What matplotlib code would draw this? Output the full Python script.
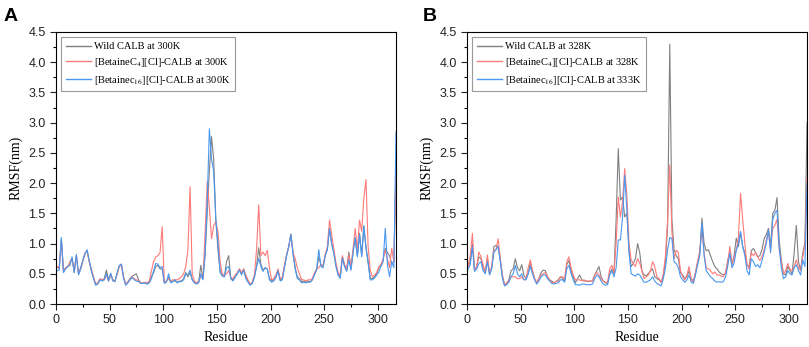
import numpy as np
import matplotlib
matplotlib.use('Agg')
import matplotlib.pyplot as plt
from matplotlib.ticker import MultipleLocator

plt.rcParams['mathtext.fontset'] = 'stix'

# residue positions (every second residue)
residues = np.arange(1, 318, 2)

# Panel A: 300K
wild_300 = [
    0.62, 0.58, 1.08, 0.53, 0.60, 0.62, 0.66, 0.76, 0.52, 0.80,
    0.50, 0.60, 0.72, 0.84, 0.88, 0.70, 0.55, 0.44, 0.32, 0.34,
    0.40, 0.40, 0.42, 0.56, 0.40, 0.50, 0.40, 0.38, 0.50, 0.62,
    0.66, 0.45, 0.32, 0.36, 0.42, 0.46, 0.48, 0.50, 0.40, 0.35,
    0.34, 0.35, 0.33, 0.36, 0.45, 0.52, 0.62, 0.64, 0.58, 0.58,
    0.36, 0.38, 0.44, 0.36, 0.38, 0.38, 0.36, 0.38, 0.38, 0.42,
    0.52, 0.45, 0.52, 0.40, 0.36, 0.34, 0.36, 0.64, 0.42, 0.80,
    1.50, 2.20, 2.77, 2.40, 1.40, 0.90, 0.55, 0.48, 0.45, 0.70,
    0.80, 0.42, 0.40, 0.45, 0.50, 0.58, 0.50, 0.58, 0.45, 0.38,
    0.32, 0.35, 0.45, 0.62, 0.93, 0.66, 0.56, 0.60, 0.58, 0.42,
    0.38, 0.40, 0.45, 0.56, 0.40, 0.42, 0.62, 0.80, 0.95, 1.16,
    0.85, 0.60, 0.45, 0.42, 0.37, 0.38, 0.36, 0.38, 0.37, 0.40,
    0.50, 0.56, 0.78, 0.65, 0.62, 0.80, 0.90, 1.25, 1.00, 0.85,
    0.65, 0.50, 0.45, 0.78, 0.65, 0.56, 0.86, 0.58, 0.88, 1.08,
    0.80, 1.17, 0.80, 1.28, 0.95, 0.70, 0.42, 0.42, 0.45, 0.50,
    0.60, 0.65, 0.73, 0.92, 0.85, 0.80, 0.67, 0.70, 2.30,
]
betc4_300 = [
    0.62, 0.60, 1.05, 0.55, 0.60, 0.62, 0.70, 0.76, 0.54, 0.80,
    0.50, 0.58, 0.70, 0.84, 0.88, 0.70, 0.58, 0.45, 0.33, 0.35,
    0.42, 0.40, 0.40, 0.48, 0.38, 0.48, 0.40, 0.38, 0.50, 0.62,
    0.64, 0.44, 0.33, 0.37, 0.40, 0.45, 0.42, 0.40, 0.38, 0.35,
    0.35, 0.36, 0.35, 0.38, 0.55, 0.70, 0.78, 0.80, 0.85, 1.28,
    0.36, 0.38, 0.42, 0.38, 0.40, 0.40, 0.40, 0.42, 0.45, 0.50,
    0.62, 0.90, 1.94, 0.50, 0.38, 0.35, 0.38, 0.45, 0.42, 1.17,
    2.03, 1.60, 1.08, 1.30, 1.36, 1.20, 0.70, 0.50, 0.48, 0.50,
    0.55, 0.44, 0.42, 0.48, 0.52, 0.58, 0.52, 0.58, 0.48, 0.40,
    0.33, 0.36, 0.48, 0.90, 1.64, 0.80, 0.86, 0.80, 0.89, 0.60,
    0.40, 0.42, 0.48, 0.58, 0.42, 0.44, 0.64, 0.82, 0.95, 1.14,
    0.85, 0.75, 0.60, 0.50, 0.40, 0.40, 0.38, 0.40, 0.40, 0.42,
    0.52, 0.58, 0.60, 0.65, 0.64, 0.82, 0.95, 1.39, 1.15, 0.90,
    0.68, 0.52, 0.48, 0.80, 0.65, 0.58, 0.82, 0.60, 0.92, 1.25,
    0.90, 1.39, 1.20, 1.75, 2.06, 0.95, 0.56, 0.45, 0.48, 0.52,
    0.62, 0.65, 0.75, 0.89, 0.75, 0.60, 0.92, 0.70, 2.10,
]
betc16_300 = [
    0.55, 0.56, 1.10, 0.52, 0.58, 0.62, 0.64, 0.78, 0.52, 0.82,
    0.48, 0.58, 0.72, 0.82, 0.90, 0.72, 0.55, 0.42, 0.31, 0.33,
    0.40, 0.38, 0.40, 0.50, 0.38, 0.51, 0.38, 0.37, 0.52, 0.64,
    0.66, 0.42, 0.31, 0.35, 0.40, 0.44, 0.40, 0.38, 0.37, 0.34,
    0.34, 0.35, 0.33, 0.35, 0.42, 0.55, 0.67, 0.66, 0.60, 0.62,
    0.34, 0.36, 0.50, 0.35, 0.37, 0.40, 0.35, 0.37, 0.37, 0.40,
    0.50, 0.48, 0.56, 0.40, 0.35, 0.33, 0.35, 0.50, 0.40, 0.85,
    1.70, 2.90, 2.40, 2.20, 1.40, 1.00, 0.52, 0.46, 0.45, 0.60,
    0.62, 0.42, 0.38, 0.44, 0.50, 0.56, 0.48, 0.56, 0.42, 0.36,
    0.31, 0.34, 0.44, 0.62, 0.75, 0.62, 0.54, 0.60, 0.58, 0.40,
    0.36, 0.38, 0.44, 0.55, 0.38, 0.40, 0.60, 0.80, 0.95, 1.15,
    0.82, 0.58, 0.42, 0.40, 0.35, 0.36, 0.35, 0.36, 0.36, 0.40,
    0.48, 0.58, 0.90, 0.62, 0.60, 0.80, 0.90, 1.25, 1.00, 0.84,
    0.62, 0.48, 0.42, 0.76, 0.62, 0.54, 0.73, 0.56, 0.85, 1.10,
    0.78, 1.15, 0.78, 1.30, 0.92, 0.68, 0.40, 0.40, 0.43, 0.48,
    0.53, 0.62, 0.70, 1.25, 0.65, 0.45, 0.70, 0.60, 2.85,
]

# Panel B: 328K / 333K
wild_328 = [
    0.62, 0.70, 1.00, 0.55, 0.62, 0.78, 0.75, 0.60, 0.52, 0.75,
    0.50, 0.60, 0.95, 0.97, 0.95, 0.73, 0.48, 0.31, 0.34, 0.40,
    0.55, 0.58, 0.75, 0.60, 0.55, 0.65, 0.48, 0.42, 0.50, 0.68,
    0.55, 0.42, 0.34, 0.42, 0.52, 0.56, 0.55, 0.45, 0.40, 0.38,
    0.35, 0.37, 0.40, 0.45, 0.42, 0.38, 0.65, 0.72, 0.55, 0.45,
    0.35, 0.42, 0.48, 0.40, 0.38, 0.38, 0.37, 0.38, 0.38, 0.48,
    0.55, 0.62, 0.45, 0.38, 0.35, 0.34, 0.50, 0.58, 0.50, 1.40,
    2.57, 1.72, 1.77, 1.44, 1.50, 0.90, 0.62, 0.67, 0.75, 1.00,
    0.85, 0.55, 0.48, 0.47, 0.50, 0.55, 0.58, 0.45, 0.42, 0.40,
    0.36, 0.48, 0.70, 1.30, 4.30, 1.40, 0.90, 0.80, 0.75, 0.52,
    0.48, 0.42, 0.45, 0.55, 0.42, 0.38, 0.52, 0.70, 0.85, 1.42,
    1.00, 0.88, 0.90, 0.80, 0.70, 0.62, 0.58, 0.53, 0.50, 0.48,
    0.50, 0.72, 0.85, 0.65, 0.80, 1.09, 0.95, 1.18, 0.95, 0.85,
    0.65, 0.62, 0.88, 0.92, 0.85, 0.78, 0.80, 0.90, 1.08, 1.15,
    1.25, 0.95, 1.50, 1.55, 1.76, 1.05, 0.73, 0.50, 0.48, 0.62,
    0.55, 0.50, 0.85, 1.30, 0.70, 0.56, 0.84, 1.02, 3.00,
]
betc4_328 = [
    0.62, 0.80, 1.17, 0.56, 0.62, 0.86, 0.78, 0.65, 0.52, 0.81,
    0.50, 0.62, 0.88, 0.90, 1.08, 0.75, 0.45, 0.32, 0.35, 0.38,
    0.45, 0.45, 0.45, 0.42, 0.42, 0.45, 0.40, 0.42, 0.60, 0.73,
    0.55, 0.42, 0.35, 0.42, 0.48, 0.50, 0.52, 0.45, 0.40, 0.36,
    0.35, 0.37, 0.38, 0.45, 0.45, 0.42, 0.70, 0.78, 0.60, 0.48,
    0.40, 0.40, 0.40, 0.38, 0.40, 0.38, 0.38, 0.38, 0.38, 0.48,
    0.52, 0.48, 0.42, 0.38, 0.36, 0.36, 0.58, 0.64, 0.52, 1.00,
    1.77, 1.44, 1.70, 2.24, 1.80, 1.00, 0.73, 0.67, 0.62, 0.75,
    0.68, 0.55, 0.42, 0.45, 0.48, 0.55, 0.70, 0.62, 0.45, 0.42,
    0.36, 0.50, 0.80, 1.40, 2.30, 1.20, 0.75, 0.89, 0.85, 0.55,
    0.45, 0.40, 0.48, 0.62, 0.40, 0.36, 0.52, 0.70, 0.88, 1.22,
    0.85, 0.60, 0.58, 0.55, 0.50, 0.53, 0.48, 0.48, 0.46, 0.45,
    0.52, 0.68, 0.95, 0.67, 0.75, 0.89, 1.10, 1.83, 1.40, 1.00,
    0.65, 0.58, 0.85, 0.80, 0.85, 0.78, 0.72, 0.78, 0.90, 1.05,
    1.20, 0.90, 1.25, 1.30, 1.40, 0.90, 0.70, 0.50, 0.55, 0.67,
    0.58, 0.55, 0.62, 0.73, 0.60, 0.55, 0.78, 0.97, 2.10,
]
betc16_333 = [
    0.58, 0.65, 0.95, 0.54, 0.58, 0.67, 0.70, 0.55, 0.50, 0.70,
    0.48, 0.58, 0.85, 0.90, 0.95, 0.70, 0.42, 0.30, 0.32, 0.36,
    0.45, 0.50, 0.64, 0.50, 0.45, 0.50, 0.40, 0.40, 0.50, 0.62,
    0.50, 0.40, 0.33, 0.38, 0.45, 0.48, 0.48, 0.42, 0.38, 0.34,
    0.33, 0.34, 0.35, 0.40, 0.40, 0.36, 0.58, 0.64, 0.50, 0.40,
    0.32, 0.32, 0.31, 0.33, 0.33, 0.32, 0.32, 0.32, 0.33, 0.42,
    0.48, 0.45, 0.38, 0.33, 0.31, 0.32, 0.48, 0.55, 0.45, 0.60,
    1.06, 1.06, 1.44, 2.13, 1.55, 0.85, 0.50, 0.48, 0.46, 0.50,
    0.48, 0.42, 0.36, 0.36, 0.38, 0.40, 0.45, 0.38, 0.34, 0.32,
    0.30, 0.42, 0.60, 0.90, 1.10, 1.08, 0.70, 0.67, 0.60, 0.45,
    0.40, 0.36, 0.40, 0.48, 0.36, 0.34, 0.48, 0.65, 0.80, 1.35,
    0.80, 0.55, 0.50, 0.45, 0.42, 0.38, 0.36, 0.37, 0.36, 0.37,
    0.45, 0.62, 0.84, 0.60, 0.68, 0.89, 1.00, 1.20, 0.95, 0.80,
    0.55, 0.48, 0.75, 0.70, 0.62, 0.65, 0.60, 0.72, 0.85, 1.00,
    1.22, 0.85, 1.40, 1.50, 1.55, 0.95, 0.60, 0.42, 0.45, 0.55,
    0.50, 0.48, 0.60, 0.65, 0.55, 0.48, 0.73, 0.62, 2.00,
]

labels_a = ['Wild CALB at 300K',
            '[BetaineC$_4$][Cl]-CALB at 300K',
            '[Betainec$_{16}$][Cl]-CALB at 300K']
labels_b = ['Wild CALB at 328K',
            '[BetaineC$_4$][Cl]-CALB at 328K',
            '[Betainec$_{16}$][Cl]-CALB at 333K']

colors = ['#808080', '#ff7a7a', '#4a98f0']

fig = plt.figure(figsize=(8.09, 3.47), dpi=100)
ax1 = fig.add_axes([0.0692, 0.1239, 0.4203, 0.7839])
ax2 = fig.add_axes([0.5773, 0.1239, 0.4203, 0.7839])

panels = [
    (ax1, [wild_300, betc4_300, betc16_300], labels_a, 'A', 0.004),
    (ax2, [wild_328, betc4_328, betc16_333], labels_b, 'B', 0.522),
]

for ax, series, labels, letter, lx in panels:
    for vals, col, lab in zip(series, colors, labels):
        ax.plot(residues, vals, color=col, linewidth=0.8, label=lab)

    ax.set_xlim(0, 317)
    ax.set_ylim(0, 4.5)
    ax.xaxis.set_major_locator(MultipleLocator(50))
    ax.xaxis.set_minor_locator(MultipleLocator(25))
    ax.yaxis.set_major_locator(MultipleLocator(0.5))
    ax.yaxis.set_minor_locator(MultipleLocator(0.25))
    ax.yaxis.set_major_formatter(matplotlib.ticker.FormatStrFormatter('%.1f'))
    ax.tick_params(which='major', direction='out', length=4, width=0.8,
                   labelsize=9, colors='#222222')
    ax.tick_params(which='minor', direction='out', length=2.5, width=0.8)
    for lbl in ax.get_xticklabels() + ax.get_yticklabels():
        lbl.set_fontfamily('Liberation Sans')
    for sp in ax.spines.values():
        sp.set_linewidth(0.8)

    ax.set_xlabel('Residue', fontsize=10, family='Liberation Serif', labelpad=3)
    ax.set_ylabel('RMSF(nm)', fontsize=10, family='Liberation Serif', labelpad=4)

    leg = ax.legend(loc='upper left', handlelength=2.4,
                    handletextpad=0.3, labelspacing=0.45, borderpad=0.45,
                    fancybox=False, edgecolor='#999999', framealpha=1,
                    prop={'family': 'Liberation Serif', 'size': 7.5})
    leg.get_frame().set_linewidth(0.8)
    for h, col in zip(leg.get_lines(), colors):
        h.set_color(col)
        h.set_linewidth(1.0)

    fig.text(lx, 0.94, letter, fontsize=14, fontweight='bold',
             family='Liberation Sans', ha='left', va='baseline')

fig.savefig('out.png', dpi=100)
